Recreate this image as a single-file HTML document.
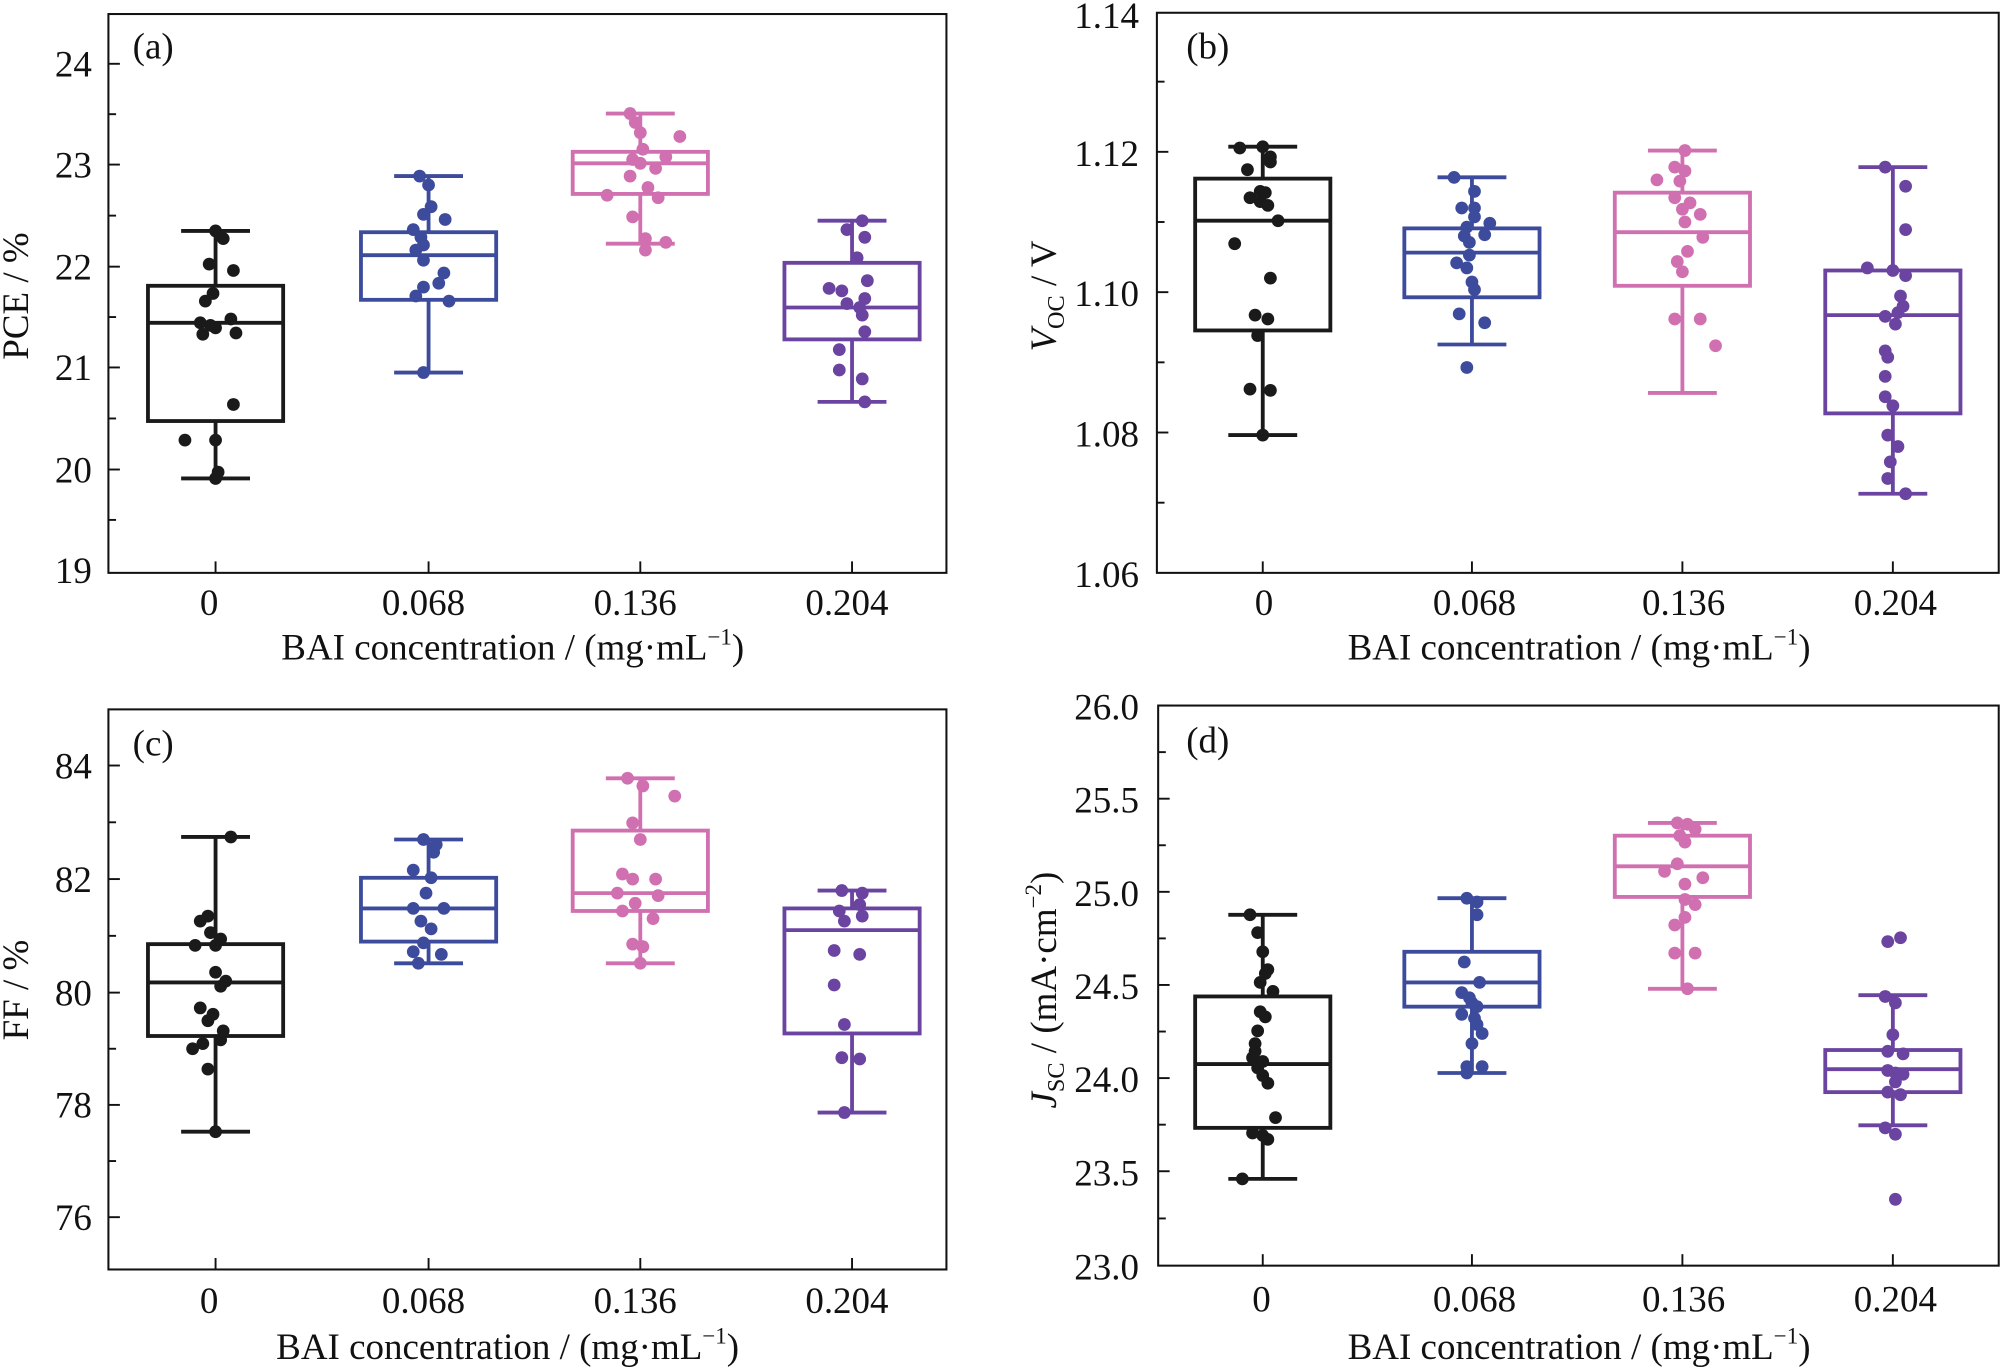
<!DOCTYPE html>
<html><head><meta charset="utf-8"><style>
html,body{margin:0;padding:0;background:#fff}
svg{display:block}
text{font-family:"Liberation Serif",serif;fill:#111}
.t{font-size:29px}
.ti{font-size:29px}
.fr{fill:none;stroke:#111;stroke-width:1.6}
.tk{stroke:#111;stroke-width:1.5}
</style></head><body>
<svg width="2000" height="1369" viewBox="0 0 1568 1073" preserveAspectRatio="none" xmlns="http://www.w3.org/2000/svg">

<!-- ===== Panel a ===== -->
<rect class="fr" x="85" y="11" width="657" height="438"/>
<g class="tk">
<line x1="85" y1="50" x2="94" y2="50"/><line x1="85" y1="89.5" x2="91" y2="89.5"/>
<line x1="85" y1="129" x2="94" y2="129"/><line x1="85" y1="169" x2="91" y2="169"/>
<line x1="85" y1="209" x2="94" y2="209"/><line x1="85" y1="248.5" x2="91" y2="248.5"/>
<line x1="85" y1="288" x2="94" y2="288"/><line x1="85" y1="328" x2="91" y2="328"/>
<line x1="85" y1="368" x2="94" y2="368"/><line x1="85" y1="407.5" x2="91" y2="407.5"/>
<line x1="169" y1="449" x2="169" y2="440"/><line x1="336" y1="449" x2="336" y2="440"/>
<line x1="502" y1="449" x2="502" y2="440"/><line x1="668" y1="449" x2="668" y2="440"/>
</g>
<g class="t" text-anchor="end">
<text x="72" y="60">24</text><text x="72" y="139">23</text><text x="72" y="219">22</text>
<text x="72" y="298">21</text><text x="72" y="378">20</text><text x="72" y="457">19</text>
</g>
<g class="t" text-anchor="middle">
<text x="164" y="482">0</text><text x="332" y="482">0.068</text><text x="498" y="482">0.136</text><text x="664" y="482">0.204</text>
</g>
<text class="ti" x="402" y="517" text-anchor="middle">BAI concentration / (mg·mL<tspan font-size="18" dy="-12">−1</tspan><tspan dy="12">)</tspan></text>
<text class="ti" x="0" y="0" transform="translate(22,232) rotate(-90)" text-anchor="middle">PCE / %</text>
<text class="ti" x="104" y="46">(a)</text>

<g fill="none" stroke-width="3">
<g stroke="#1a1a1a"><line x1="169" y1="181" x2="169" y2="375"/><line x1="142" y1="181" x2="196" y2="181"/><line x1="142" y1="375" x2="196" y2="375"/><rect x="116" y="224" width="106" height="106" fill="#fff"/><line x1="116" y1="253" x2="222" y2="253"/></g>
<g stroke="#3d4b9c"><line x1="336" y1="138" x2="336" y2="292"/><line x1="309" y1="138" x2="363" y2="138"/><line x1="309" y1="292" x2="363" y2="292"/><rect x="283" y="182" width="106" height="53" fill="#fff"/><line x1="283" y1="200" x2="389" y2="200"/></g>
<g stroke="#d070b0"><line x1="502" y1="89" x2="502" y2="191"/><line x1="475" y1="89" x2="529" y2="89"/><line x1="475" y1="191" x2="529" y2="191"/><rect x="449" y="119" width="106" height="33" fill="#fff"/><line x1="449" y1="128" x2="555" y2="128"/></g>
<g stroke="#6a44a0"><line x1="668" y1="173" x2="668" y2="315"/><line x1="641" y1="173" x2="695" y2="173"/><line x1="641" y1="315" x2="695" y2="315"/><rect x="615" y="206" width="106" height="60" fill="#fff"/><line x1="615" y1="241" x2="721" y2="241"/></g>
</g>
<g fill="#1a1a1a">
<circle r="5" cx="169" cy="181"/><circle r="5" cx="175" cy="187"/><circle r="5" cx="164" cy="207"/><circle r="5" cx="183" cy="212"/><circle r="5" cx="167" cy="230"/><circle r="5" cx="161" cy="236"/><circle r="5" cx="181" cy="250"/><circle r="5" cx="157" cy="253"/><circle r="5" cx="165" cy="255"/><circle r="5" cx="169" cy="257"/><circle r="5" cx="159" cy="262"/><circle r="5" cx="185" cy="261"/><circle r="5" cx="183" cy="317"/><circle r="5" cx="145" cy="345"/><circle r="5" cx="169" cy="345"/><circle r="5" cx="171" cy="370"/><circle r="5" cx="169" cy="375"/>
</g>
<g fill="#3d4b9c">
<circle r="5" cx="329" cy="138"/><circle r="5" cx="336" cy="145"/><circle r="5" cx="338" cy="162"/><circle r="5" cx="332" cy="168"/><circle r="5" cx="349" cy="172"/><circle r="5" cx="324" cy="180"/><circle r="5" cx="330" cy="186"/><circle r="5" cx="332" cy="192"/><circle r="5" cx="326" cy="196"/><circle r="5" cx="332" cy="204"/><circle r="5" cx="348" cy="214"/><circle r="5" cx="344" cy="222"/><circle r="5" cx="332" cy="225"/><circle r="5" cx="326" cy="232"/><circle r="5" cx="352" cy="236"/><circle r="5" cx="332" cy="292"/>
</g>
<g fill="#d070b0">
<circle r="5" cx="494" cy="89"/><circle r="5" cx="498" cy="96"/><circle r="5" cx="502" cy="104"/><circle r="5" cx="533" cy="107"/><circle r="5" cx="504" cy="117"/><circle r="5" cx="522" cy="123"/><circle r="5" cx="496" cy="125"/><circle r="5" cx="502" cy="128"/><circle r="5" cx="514" cy="132"/><circle r="5" cx="494" cy="138"/><circle r="5" cx="508" cy="147"/><circle r="5" cx="476" cy="153"/><circle r="5" cx="516" cy="155"/><circle r="5" cx="496" cy="170"/><circle r="5" cx="506" cy="187"/><circle r="5" cx="522" cy="190"/><circle r="5" cx="506" cy="196"/>
</g>
<g fill="#6a44a0">
<circle r="5" cx="676" cy="173"/><circle r="5" cx="664" cy="180"/><circle r="5" cx="678" cy="186"/><circle r="5" cx="672" cy="202"/><circle r="5" cx="680" cy="220"/><circle r="5" cx="650" cy="226"/><circle r="5" cx="660" cy="228"/><circle r="5" cx="678" cy="234"/><circle r="5" cx="664" cy="238"/><circle r="5" cx="674" cy="241"/><circle r="5" cx="676" cy="247"/><circle r="5" cx="678" cy="260"/><circle r="5" cx="658" cy="274"/><circle r="5" cx="658" cy="290"/><circle r="5" cx="676" cy="297"/><circle r="5" cx="678" cy="315"/>
</g>

<!-- ===== Panel b ===== -->
<rect class="fr" x="907" y="10" width="660" height="439"/>
<g class="tk">
<line x1="907" y1="64" x2="913" y2="64"/><line x1="907" y1="119" x2="916" y2="119"/>
<line x1="907" y1="174" x2="913" y2="174"/><line x1="907" y1="229" x2="916" y2="229"/>
<line x1="907" y1="284" x2="913" y2="284"/><line x1="907" y1="339" x2="916" y2="339"/>
<line x1="907" y1="394" x2="913" y2="394"/>
<line x1="990" y1="449" x2="990" y2="440"/><line x1="1154" y1="449" x2="1154" y2="440"/>
<line x1="1319" y1="449" x2="1319" y2="440"/><line x1="1484" y1="449" x2="1484" y2="440"/>
</g>
<g class="t" text-anchor="end">
<text x="893" y="22">1.14</text><text x="893" y="130">1.12</text><text x="893" y="240">1.10</text>
<text x="893" y="350">1.08</text><text x="893" y="460">1.06</text>
</g>
<g class="t" text-anchor="middle">
<text x="991" y="482">0</text><text x="1156" y="482">0.068</text><text x="1320" y="482">0.136</text><text x="1486" y="482">0.204</text>
</g>
<text class="ti" x="1238" y="517" text-anchor="middle">BAI concentration / (mg·mL<tspan font-size="18" dy="-12">−1</tspan><tspan dy="12">)</tspan></text>
<text class="ti" transform="translate(828,232) rotate(-90)" text-anchor="middle"><tspan font-style="italic">V</tspan><tspan font-size="19" dy="6">OC</tspan><tspan dy="-6"> / V</tspan></text>
<text class="ti" x="930" y="46">(b)</text>

<g fill="none" stroke-width="3">
<g stroke="#1a1a1a"><line x1="990" y1="115" x2="990" y2="341"/><line x1="963" y1="115" x2="1017" y2="115"/><line x1="963" y1="341" x2="1017" y2="341"/><rect x="937" y="140" width="106" height="119" fill="#fff"/><line x1="937" y1="173" x2="1043" y2="173"/></g>
<g stroke="#3d4b9c"><line x1="1154" y1="139" x2="1154" y2="270"/><line x1="1127" y1="139" x2="1181" y2="139"/><line x1="1127" y1="270" x2="1181" y2="270"/><rect x="1101" y="179" width="106" height="54" fill="#fff"/><line x1="1101" y1="198" x2="1207" y2="198"/></g>
<g stroke="#d070b0"><line x1="1319" y1="118" x2="1319" y2="308"/><line x1="1292" y1="118" x2="1346" y2="118"/><line x1="1292" y1="308" x2="1346" y2="308"/><rect x="1266" y="151" width="106" height="73" fill="#fff"/><line x1="1266" y1="182" x2="1372" y2="182"/></g>
<g stroke="#6a44a0"><line x1="1484" y1="131" x2="1484" y2="387"/><line x1="1457" y1="131" x2="1511" y2="131"/><line x1="1457" y1="387" x2="1511" y2="387"/><rect x="1431" y="212" width="106" height="112" fill="#fff"/><line x1="1431" y1="247" x2="1537" y2="247"/></g>
</g>
<g fill="#1a1a1a">
<circle r="5" cx="990" cy="115"/><circle r="5" cx="972" cy="116"/><circle r="5" cx="996" cy="123"/><circle r="5" cx="996" cy="127"/><circle r="5" cx="978" cy="133"/><circle r="5" cx="988" cy="150"/><circle r="5" cx="992" cy="151"/><circle r="5" cx="980" cy="155"/><circle r="5" cx="988" cy="158"/><circle r="5" cx="994" cy="161"/><circle r="5" cx="1002" cy="173"/><circle r="5" cx="968" cy="191"/><circle r="5" cx="996" cy="218"/><circle r="5" cx="984" cy="247"/><circle r="5" cx="994" cy="250"/><circle r="5" cx="986" cy="263"/><circle r="5" cx="980" cy="305"/><circle r="5" cx="996" cy="306"/><circle r="5" cx="990" cy="341"/>
</g>
<g fill="#3d4b9c">
<circle r="5" cx="1140" cy="139"/><circle r="5" cx="1156" cy="150"/><circle r="5" cx="1146" cy="163"/><circle r="5" cx="1156" cy="163"/><circle r="5" cx="1156" cy="170"/><circle r="5" cx="1168" cy="175"/><circle r="5" cx="1150" cy="178"/><circle r="5" cx="1164" cy="184"/><circle r="5" cx="1148" cy="185"/><circle r="5" cx="1152" cy="190"/><circle r="5" cx="1152" cy="200"/><circle r="5" cx="1142" cy="206"/><circle r="5" cx="1150" cy="210"/><circle r="5" cx="1154" cy="221"/><circle r="5" cx="1156" cy="227"/><circle r="5" cx="1144" cy="246"/><circle r="5" cx="1164" cy="253"/><circle r="5" cx="1150" cy="288"/>
</g>
<g fill="#d070b0">
<circle r="5" cx="1321" cy="118"/><circle r="5" cx="1313" cy="131"/><circle r="5" cx="1321" cy="134"/><circle r="5" cx="1299" cy="141"/><circle r="5" cx="1317" cy="142"/><circle r="5" cx="1313" cy="155"/><circle r="5" cx="1325" cy="159"/><circle r="5" cx="1319" cy="164"/><circle r="5" cx="1333" cy="168"/><circle r="5" cx="1321" cy="174"/><circle r="5" cx="1335" cy="186"/><circle r="5" cx="1323" cy="197"/><circle r="5" cx="1315" cy="205"/><circle r="5" cx="1319" cy="213"/><circle r="5" cx="1313" cy="250"/><circle r="5" cx="1333" cy="250"/><circle r="5" cx="1345" cy="271"/>
</g>
<g fill="#6a44a0">
<circle r="5" cx="1478" cy="131"/><circle r="5" cx="1494" cy="146"/><circle r="5" cx="1494" cy="180"/><circle r="5" cx="1464" cy="210"/><circle r="5" cx="1484" cy="212"/><circle r="5" cx="1494" cy="216"/><circle r="5" cx="1490" cy="232"/><circle r="5" cx="1492" cy="240"/><circle r="5" cx="1488" cy="245"/><circle r="5" cx="1478" cy="248"/><circle r="5" cx="1486" cy="254"/><circle r="5" cx="1478" cy="275"/><circle r="5" cx="1480" cy="280"/><circle r="5" cx="1478" cy="295"/><circle r="5" cx="1478" cy="311"/><circle r="5" cx="1484" cy="318"/><circle r="5" cx="1480" cy="341"/><circle r="5" cx="1488" cy="350"/><circle r="5" cx="1482" cy="362"/><circle r="5" cx="1480" cy="375"/><circle r="5" cx="1494" cy="387"/>
</g>

<!-- ===== Panel c ===== -->
<rect class="fr" x="85" y="556" width="657" height="439"/>
<g class="tk">
<line x1="85" y1="600" x2="94" y2="600"/><line x1="85" y1="644.5" x2="91" y2="644.5"/>
<line x1="85" y1="689" x2="94" y2="689"/><line x1="85" y1="733.5" x2="91" y2="733.5"/>
<line x1="85" y1="778" x2="94" y2="778"/><line x1="85" y1="822" x2="91" y2="822"/>
<line x1="85" y1="866" x2="94" y2="866"/><line x1="85" y1="910" x2="91" y2="910"/>
<line x1="85" y1="954" x2="94" y2="954"/>
<line x1="169" y1="995" x2="169" y2="986"/><line x1="336" y1="995" x2="336" y2="986"/>
<line x1="502" y1="995" x2="502" y2="986"/><line x1="668" y1="995" x2="668" y2="986"/>
</g>
<g class="t" text-anchor="end">
<text x="72" y="610">84</text><text x="72" y="699">82</text><text x="72" y="788">80</text>
<text x="72" y="876">78</text><text x="72" y="964">76</text>
</g>
<g class="t" text-anchor="middle">
<text x="164" y="1029">0</text><text x="332" y="1029">0.068</text><text x="498" y="1029">0.136</text><text x="664" y="1029">0.204</text>
</g>
<text class="ti" x="398" y="1065" text-anchor="middle">BAI concentration / (mg·mL<tspan font-size="18" dy="-12">−1</tspan><tspan dy="12">)</tspan></text>
<text class="ti" transform="translate(22,776) rotate(-90)" text-anchor="middle">FF / %</text>
<text class="ti" x="104" y="592">(c)</text>

<g fill="none" stroke-width="3">
<g stroke="#1a1a1a"><line x1="169" y1="656" x2="169" y2="887"/><line x1="142" y1="656" x2="196" y2="656"/><line x1="142" y1="887" x2="196" y2="887"/><rect x="116" y="740" width="106" height="72" fill="#fff"/><line x1="116" y1="770" x2="222" y2="770"/></g>
<g stroke="#3d4b9c"><line x1="336" y1="658" x2="336" y2="755"/><line x1="309" y1="658" x2="363" y2="658"/><line x1="309" y1="755" x2="363" y2="755"/><rect x="283" y="688" width="106" height="50" fill="#fff"/><line x1="283" y1="712" x2="389" y2="712"/></g>
<g stroke="#d070b0"><line x1="502" y1="610" x2="502" y2="755"/><line x1="475" y1="610" x2="529" y2="610"/><line x1="475" y1="755" x2="529" y2="755"/><rect x="449" y="651" width="106" height="63" fill="#fff"/><line x1="449" y1="700" x2="555" y2="700"/></g>
<g stroke="#6a44a0"><line x1="668" y1="698" x2="668" y2="872"/><line x1="641" y1="698" x2="695" y2="698"/><line x1="641" y1="872" x2="695" y2="872"/><rect x="615" y="712" width="106" height="98" fill="#fff"/><line x1="615" y1="729" x2="721" y2="729"/></g>
</g>
<g fill="#1a1a1a">
<circle r="5" cx="181" cy="656"/><circle r="5" cx="163" cy="718"/><circle r="5" cx="157" cy="722"/><circle r="5" cx="165" cy="731"/><circle r="5" cx="173" cy="736"/><circle r="5" cx="153" cy="741"/><circle r="5" cx="169" cy="741"/><circle r="5" cx="169" cy="762"/><circle r="5" cx="177" cy="769"/><circle r="5" cx="173" cy="773"/><circle r="5" cx="157" cy="790"/><circle r="5" cx="167" cy="795"/><circle r="5" cx="163" cy="800"/><circle r="5" cx="175" cy="808"/><circle r="5" cx="173" cy="815"/><circle r="5" cx="151" cy="822"/><circle r="5" cx="159" cy="818"/><circle r="5" cx="163" cy="838"/><circle r="5" cx="169" cy="887"/>
</g>
<g fill="#3d4b9c">
<circle r="5" cx="332" cy="658"/><circle r="5" cx="342" cy="662"/><circle r="5" cx="340" cy="668"/><circle r="5" cx="324" cy="682"/><circle r="5" cx="338" cy="688"/><circle r="5" cx="334" cy="700"/><circle r="5" cx="324" cy="712"/><circle r="5" cx="348" cy="712"/><circle r="5" cx="330" cy="722"/><circle r="5" cx="338" cy="728"/><circle r="5" cx="332" cy="739"/><circle r="5" cx="324" cy="746"/><circle r="5" cx="346" cy="748"/><circle r="5" cx="328" cy="755"/>
</g>
<g fill="#d070b0">
<circle r="5" cx="492" cy="610"/><circle r="5" cx="504" cy="616"/><circle r="5" cx="529" cy="624"/><circle r="5" cx="496" cy="645"/><circle r="5" cx="502" cy="658"/><circle r="5" cx="488" cy="685"/><circle r="5" cx="496" cy="689"/><circle r="5" cx="514" cy="689"/><circle r="5" cx="484" cy="700"/><circle r="5" cx="516" cy="702"/><circle r="5" cx="498" cy="708"/><circle r="5" cx="488" cy="714"/><circle r="5" cx="512" cy="720"/><circle r="5" cx="496" cy="740"/><circle r="5" cx="504" cy="742"/><circle r="5" cx="502" cy="755"/>
</g>
<g fill="#6a44a0">
<circle r="5" cx="660" cy="698"/><circle r="5" cx="676" cy="700"/><circle r="5" cx="674" cy="709"/><circle r="5" cx="658" cy="714"/><circle r="5" cx="676" cy="718"/><circle r="5" cx="662" cy="722"/><circle r="5" cx="654" cy="745"/><circle r="5" cx="674" cy="748"/><circle r="5" cx="654" cy="772"/><circle r="5" cx="662" cy="803"/><circle r="5" cx="660" cy="829"/><circle r="5" cx="674" cy="830"/><circle r="5" cx="662" cy="872"/>
</g>

<!-- ===== Panel d ===== -->
<rect class="fr" x="908" y="553" width="659" height="439"/>
<g class="tk">
<line x1="908" y1="553" x2="917" y2="553"/><line x1="908" y1="589.5" x2="914" y2="589.5"/>
<line x1="908" y1="626" x2="917" y2="626"/><line x1="908" y1="662.5" x2="914" y2="662.5"/>
<line x1="908" y1="699" x2="917" y2="699"/><line x1="908" y1="735.5" x2="914" y2="735.5"/>
<line x1="908" y1="772" x2="917" y2="772"/><line x1="908" y1="808.5" x2="914" y2="808.5"/>
<line x1="908" y1="845" x2="917" y2="845"/><line x1="908" y1="881.5" x2="914" y2="881.5"/>
<line x1="908" y1="918" x2="917" y2="918"/><line x1="908" y1="955" x2="914" y2="955"/>
<line x1="990" y1="992" x2="990" y2="983"/><line x1="1154" y1="992" x2="1154" y2="983"/>
<line x1="1319" y1="992" x2="1319" y2="983"/><line x1="1484" y1="992" x2="1484" y2="983"/>
</g>
<g class="t" text-anchor="end">
<text x="893" y="564">26.0</text><text x="893" y="637">25.5</text><text x="893" y="710">25.0</text>
<text x="893" y="783">24.5</text><text x="893" y="856">24.0</text><text x="893" y="929">23.5</text><text x="893" y="1003">23.0</text>
</g>
<g class="t" text-anchor="middle">
<text x="989" y="1028">0</text><text x="1156" y="1028">0.068</text><text x="1320" y="1028">0.136</text><text x="1486" y="1028">0.204</text>
</g>
<text class="ti" x="1238" y="1065" text-anchor="middle">BAI concentration / (mg·mL<tspan font-size="18" dy="-12">−1</tspan><tspan dy="12">)</tspan></text>
<text class="ti" transform="translate(828,776) rotate(-90)" text-anchor="middle"><tspan font-style="italic">J</tspan><tspan font-size="19" dy="6">SC</tspan><tspan dy="-6"> / (mA·cm</tspan><tspan font-size="18" dy="-12">−2</tspan><tspan dy="12">)</tspan></text>
<text class="ti" x="930" y="590">(d)</text>

<g fill="none" stroke-width="3">
<g stroke="#1a1a1a"><line x1="990" y1="717" x2="990" y2="924"/><line x1="963" y1="717" x2="1017" y2="717"/><line x1="963" y1="924" x2="1017" y2="924"/><rect x="937" y="781" width="106" height="103" fill="#fff"/><line x1="937" y1="834" x2="1043" y2="834"/></g>
<g stroke="#3d4b9c"><line x1="1154" y1="704" x2="1154" y2="841"/><line x1="1127" y1="704" x2="1181" y2="704"/><line x1="1127" y1="841" x2="1181" y2="841"/><rect x="1101" y="746" width="106" height="43" fill="#fff"/><line x1="1101" y1="770" x2="1207" y2="770"/></g>
<g stroke="#d070b0"><line x1="1319" y1="645" x2="1319" y2="775"/><line x1="1292" y1="645" x2="1346" y2="645"/><line x1="1292" y1="775" x2="1346" y2="775"/><rect x="1266" y="655" width="106" height="48" fill="#fff"/><line x1="1266" y1="679" x2="1372" y2="679"/></g>
<g stroke="#6a44a0"><line x1="1484" y1="780" x2="1484" y2="882"/><line x1="1457" y1="780" x2="1511" y2="780"/><line x1="1457" y1="882" x2="1511" y2="882"/><rect x="1431" y="823" width="106" height="33" fill="#fff"/><line x1="1431" y1="838" x2="1537" y2="838"/></g>
</g>
<g fill="#1a1a1a">
<circle r="5" cx="980" cy="717"/><circle r="5" cx="986" cy="731"/><circle r="5" cx="990" cy="746"/><circle r="5" cx="994" cy="760"/><circle r="5" cx="992" cy="763"/><circle r="5" cx="988" cy="770"/><circle r="5" cx="998" cy="777"/><circle r="5" cx="988" cy="793"/><circle r="5" cx="992" cy="797"/><circle r="5" cx="986" cy="808"/><circle r="5" cx="984" cy="818"/><circle r="5" cx="984" cy="824"/><circle r="5" cx="982" cy="829"/><circle r="5" cx="990" cy="832"/><circle r="5" cx="986" cy="837"/><circle r="5" cx="990" cy="843"/><circle r="5" cx="994" cy="849"/><circle r="5" cx="1000" cy="876"/><circle r="5" cx="982" cy="888"/><circle r="5" cx="990" cy="890"/><circle r="5" cx="994" cy="893"/><circle r="5" cx="974" cy="924"/>
</g>
<g fill="#3d4b9c">
<circle r="5" cx="1150" cy="704"/><circle r="5" cx="1158" cy="707"/><circle r="5" cx="1158" cy="717"/><circle r="5" cx="1148" cy="754"/><circle r="5" cx="1160" cy="770"/><circle r="5" cx="1146" cy="778"/><circle r="5" cx="1152" cy="782"/><circle r="5" cx="1154" cy="786"/><circle r="5" cx="1158" cy="789"/><circle r="5" cx="1146" cy="795"/><circle r="5" cx="1156" cy="798"/><circle r="5" cx="1158" cy="803"/><circle r="5" cx="1162" cy="810"/><circle r="5" cx="1154" cy="818"/><circle r="5" cx="1150" cy="836"/><circle r="5" cx="1162" cy="836"/><circle r="5" cx="1150" cy="841"/>
</g>
<g fill="#d070b0">
<circle r="5" cx="1315" cy="645"/><circle r="5" cx="1323" cy="646"/><circle r="5" cx="1329" cy="650"/><circle r="5" cx="1317" cy="655"/><circle r="5" cx="1321" cy="660"/><circle r="5" cx="1315" cy="677"/><circle r="5" cx="1305" cy="683"/><circle r="5" cx="1335" cy="688"/><circle r="5" cx="1321" cy="693"/><circle r="5" cx="1321" cy="705"/><circle r="5" cx="1329" cy="709"/><circle r="5" cx="1321" cy="719"/><circle r="5" cx="1313" cy="725"/><circle r="5" cx="1313" cy="747"/><circle r="5" cx="1329" cy="747"/><circle r="5" cx="1323" cy="775"/>
</g>
<g fill="#6a44a0">
<circle r="5" cx="1478" cy="781"/><circle r="5" cx="1486" cy="786"/><circle r="5" cx="1484" cy="811"/><circle r="5" cx="1480" cy="824"/><circle r="5" cx="1492" cy="826"/><circle r="5" cx="1480" cy="839"/><circle r="5" cx="1486" cy="841"/><circle r="5" cx="1492" cy="842"/><circle r="5" cx="1486" cy="848"/><circle r="5" cx="1480" cy="856"/><circle r="5" cx="1490" cy="858"/><circle r="5" cx="1478" cy="884"/><circle r="5" cx="1486" cy="889"/><circle r="5" cx="1486" cy="940"/>
<circle r="5" cx="1480" cy="738"/><circle r="5" cx="1490" cy="735"/>
</g>
</svg>
</body></html>
